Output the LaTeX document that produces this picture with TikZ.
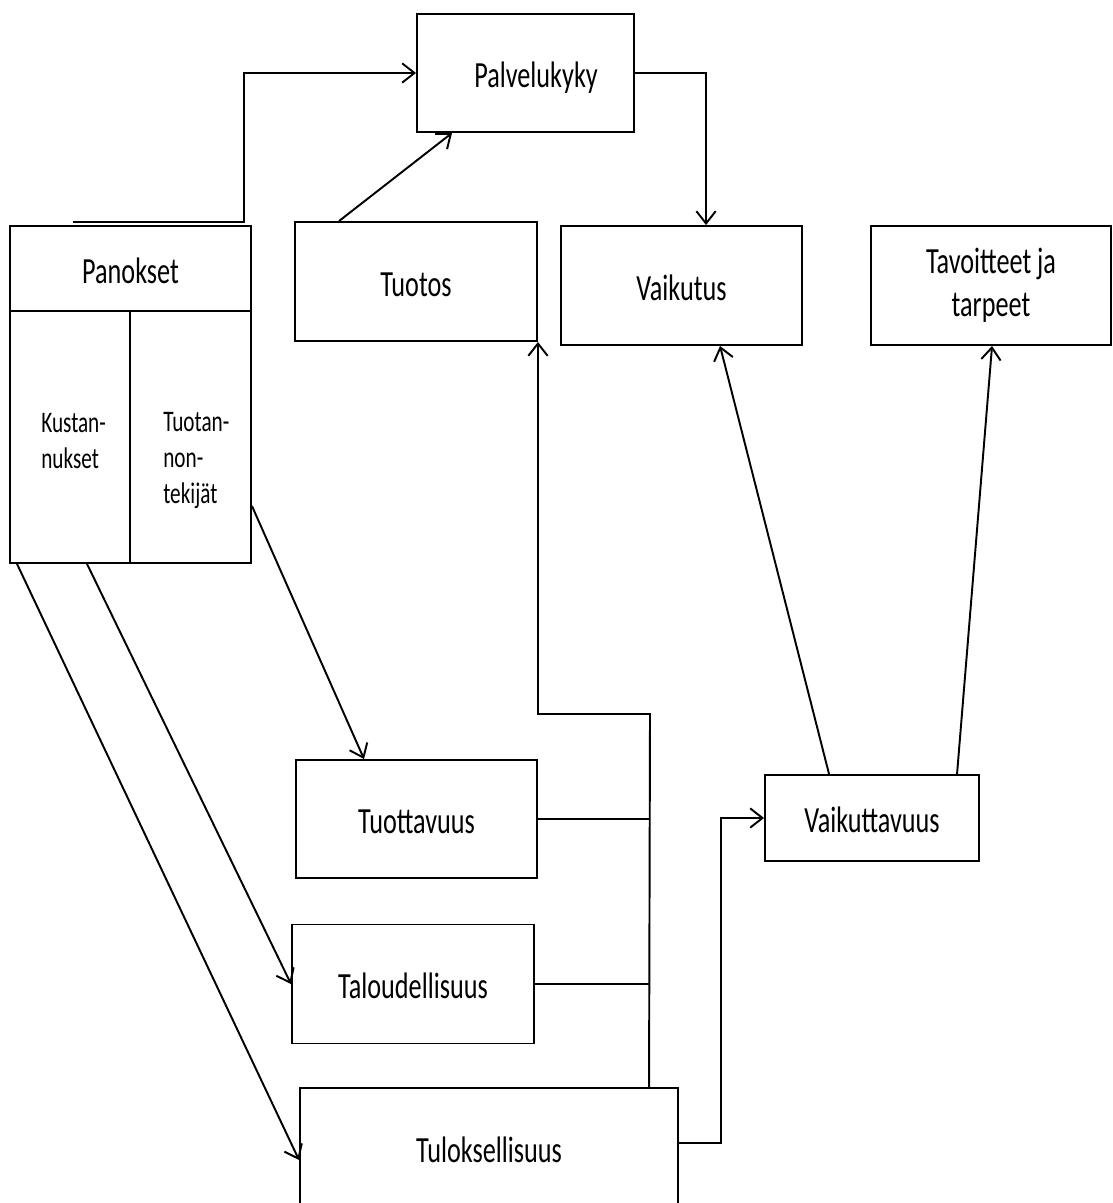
\documentclass[tikz,border=0pt]{standalone}
\usepackage{fontspec}
\setmainfont{Carlito}[FakeStretch=0.71]
\usetikzlibrary{arrows.meta,calc}
\tikzset{
  laatikko/.style={draw, line width=1.1pt, inner sep=0pt, text height=17pt, text depth=0pt, font=\fontsize{21}{24.5}\selectfont},
  koko/.style 2 args={minimum width=#1*0.02cm, minimum height=#2*0.02cm},
  pieni/.style={inner sep=0pt, align=left, anchor=north west, font=\fontsize{17}{20.5}\selectfont},
  viiva/.style={line width=1.1pt},
  nuoli/.style={line width=1.1pt, -{Straight Barb[length=7pt,width=11pt]}}
}

\begin{document}
\begin{tikzpicture}[x=0.02cm,y=-0.02cm]
\useasboundingbox (0,0) rectangle (1112,1203);
%%%%% START %%%%%
\node[laatikko, koko={217}{118}] (palvelu) at (525.5,73) {\hspace*{12pt}Palvelukyky};

\node[laatikko, koko={241}{85}] (panokset) at (130.5,268.5) {Panokset};
\node[laatikko, koko={120}{252}] (kust) at (70,437) {};
\node[laatikko, koko={121}{252}] (tekijat) at (190.5,437) {};
\node[pieni] (kustteksti) at (41,413) {Kustan-\\nukset};
\node[pieni] (tekijateksti) at (163,412) {Tuotan-\\non-\\tekijät};

\node[laatikko, koko={242}{119}] (tuotos) at (416,281.5) {Tuotos};
\node[laatikko, koko={241}{119}] (vaikutus) at (681.5,285.5) {Vaikutus};
\node[laatikko, koko={240}{119}, align=center, text height=, text depth=] (tavoitteet) at (991,285.5) {Tavoitteet ja\\tarpeet};

\node[laatikko, koko={241}{118}] (tuottavuus) at (416.5,819) {Tuottavuus};
\node[laatikko, koko={242}{119}] (talous) at (413,984) {Taloudellisuus};
\node[laatikko, koko={378}{120}] (tulos) at (489,1148) {Tuloksellisuus};
\node[laatikko, koko={214}{86}] (vaikuttavuus) at (872,818) {Vaikuttavuus};

% ylaosa
\coordinate (alku) at (73,222);
\draw[nuoli] (alku) -- (244,222) |- (palvelu.west);
\draw[nuoli] ($(tuotos.north west)+(45,0)$) -- ($(palvelu.south west)+(36,0)$);
\draw[nuoli] (palvelu.east) -| ($(vaikutus.north west)+(146,0)$);
\draw[nuoli] ($(vaikuttavuus.north west)+(65,0)$) -- ($(vaikutus.south west)+(160,0)$);
\draw[nuoli] ($(vaikuttavuus.north west)+(193,0)$) -- ($(tavoitteet.south west)+(122,0)$);

% keskiosa
\coordinate (kulma) at (650,714);
\draw[nuoli] ($(tulos.north west)+(350,0)$) -- (kulma) -| (tuotos.south east);
\draw[viiva] (tuottavuus.east) -- (tuottavuus.east -| kulma);
\draw[viiva] (talous.east) -- (talous.east -| kulma);
\draw[nuoli] ($(tulos.east)+(0,-5)$) -- ++(42,0) |- (vaikuttavuus.west);

% panokset
\draw[nuoli] ($(tekijat.south east)+(0,-58)$) -- ($(tuottavuus.north west)+(69,0)$);
\draw[nuoli] ($(kust.south west)+(78,0)$) -- (talous.west);
\draw[nuoli] ($(kust.south west)+(8,0)$) -- ($(tulos.west)+(0,12)$);
%%%%% END %%%%%
\end{tikzpicture}
\end{document}
